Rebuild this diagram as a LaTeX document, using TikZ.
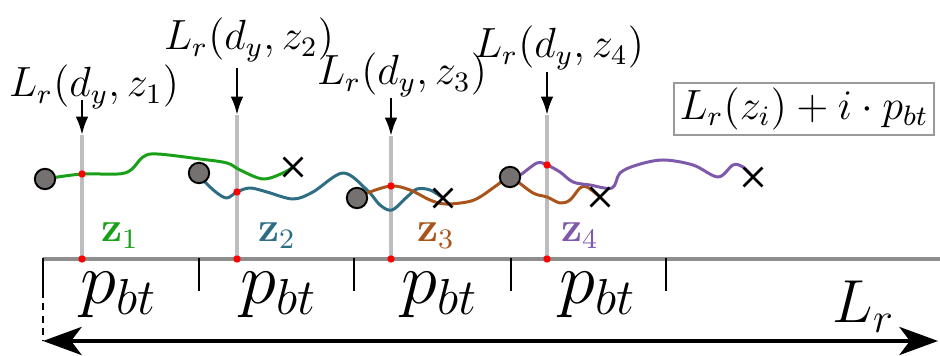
\documentclass[tikz,border=0pt]{standalone}
\usepackage{xcolor}
\usepackage{tikz}
\usetikzlibrary{arrows.meta,shapes.misc}
\definecolor{zgreen}{HTML}{19A019}
\definecolor{zblue}{HTML}{2E6E84}
\definecolor{zorange}{HTML}{A8541A}
\definecolor{zpurple}{HTML}{7E58AA}
\definecolor{ink}{HTML}{000000}
\definecolor{guide}{HTML}{BEBEBE}
\definecolor{axisgray}{HTML}{8E8E8E}
\definecolor{ptgray}{HTML}{767171}
\definecolor{boxgray}{HTML}{9A9A9A}

\begin{document}
\begin{tikzpicture}[x=0.01cm,y=-0.01cm,font=\large,
  walk/.style={line width=0.85pt,line cap=round,line join=round},
  startpt/.style={circle,draw=ink,fill=ptgray,line width=0.55pt,inner sep=0pt,minimum size=5.8pt},
  endpt/.style={cross out,draw=ink,line width=0.75pt,inner sep=0pt,minimum size=4.6pt},
  hit/.style={circle,fill=red,inner sep=0pt,minimum size=2.1pt},
  guideline/.style={guide,line width=0.95pt},
  pointer/.style={ink,line width=0.75pt,-{Latex[length=5.2pt,width=3.6pt]}},
  tickmark/.style={ink,line width=0.7pt},
  span/.style={ink,line width=1pt,{Stealth[length=11pt,width=8pt,inset=3pt]}-{Stealth[length=11pt,width=8pt,inset=3pt]}}]
\useasboundingbox (0,0) rectangle (940,356);
\foreach \i/\x/\ty/\ay in {1/82/135/100,2/237/115/68,3/391/136/98,4/547/115/72}{
  \coordinate (top\i) at (\x,\ty);
  \coordinate (bot\i) at (\x,259);
  \coordinate (src\i) at (\x,\ay);
  \draw[guideline] (top\i) -- (bot\i);}
\draw[axisgray,line width=1.1pt] (43,259) -- (940,259);
\foreach \x in {43,199,354,511,666} \draw[tickmark] (\x,258) -- (\x,291);
\draw[tickmark,dash pattern=on 2pt off 1.5pt] (43,291) -- (43,341);
\draw[walk,zgreen] plot[smooth,tension=0.55] coordinates {(45,179) (82,174) (125,173) (143,157) (157,154) (200,159) (227,163) (240,170) (263,179) (283,173) (293,167)};
\draw[walk,zblue] plot[smooth,tension=0.55] coordinates {(199,173) (205,182) (217,193) (227,198) (237,192) (250,188) (267,192) (293,199) (313,192) (343,173) (367,190) (380,205) (392,210) (407,197) (417,189) (430,190) (443,198)};
\draw[walk,zorange] plot[smooth,tension=0.55] coordinates {(357,198) (367,193) (391,186) (410,190) (430,200) (445,204) (467,202) (480,197) (500,183) (510,177) (533,193) (547,197) (560,203) (570,200) (580,188) (587,187) (600,197)};
\draw[walk,zpurple] plot[smooth,tension=0.55] coordinates {(510,177) (520,175) (537,163) (547,165) (560,172) (573,182) (590,185) (612,188) (620,173) (637,165) (663,160) (693,165) (718,177) (733,165) (743,167) (753,177)};
\foreach \i/\x/\y in {1/45/179,2/199/173,3/357/198,4/510/177} \node[startpt] (s\i) at (\x,\y) {};
\foreach \i/\x/\y in {1/293/167,2/443/198,3/600/197,4/753/177} \node[endpt] (e\i) at (\x,\y) {};
\foreach \i/\x/\y in {1/82/174,2/237/192,3/391/186,4/547/165} \node[hit] (h\i) at (\x,\y) {};
\foreach \i in {1,...,4} \node[hit] (b\i) at (bot\i) {};
\foreach \i/\lx/\ly in {1/94/97,2/249/50,3/402/85,4/559/58}{
  \node[anchor=base] (lab\i) at (\lx,\ly) {$L_r(d_y,z_\i)$};
  \draw[pointer] (src\i) -- (top\i);}
\foreach \i/\x/\c in {1/120/zgreen,2/277/zblue,3/436/zorange,4/580/zpurple} \node[text=\c,anchor=base] (z\i) at (\x,242) {$\mathbf{z}_\i$};
\foreach \i/\x in {1/119,2/279,3/440,4/598} \node[font=\huge,anchor=base] (p\i) at (\x,304) {$p_{bt}$};
\node[draw=boxgray,line width=0.6pt,inner sep=1.5pt] (key) at (804,109) {$L_r(z_i)+i\cdot p_{bt}$};
\coordinate (lrA) at (43,341);
\coordinate (lrB) at (938,341);
\draw[span] (lrA) -- (lrB);
\node[font=\LARGE,anchor=base west,inner sep=0pt] (lr) at (832,323) {$L_r$};
\end{tikzpicture}
\end{document}
